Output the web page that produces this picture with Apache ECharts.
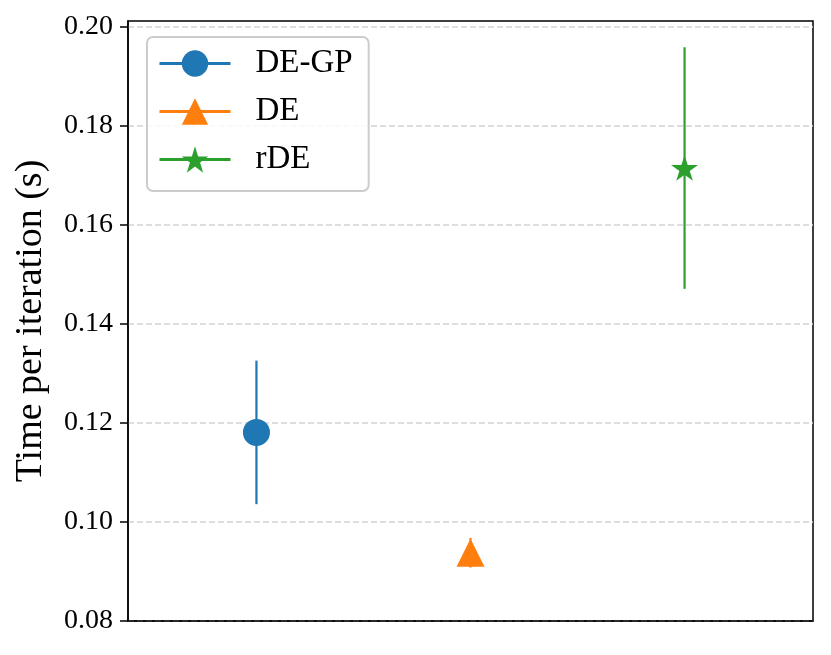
<!DOCTYPE html>
<html>
<head>
<meta charset="utf-8">
<script src="https://cdn.jsdelivr.net/npm/echarts@6/dist/echarts.min.js"></script>
<style>
	html,body{margin:0;padding:0;background:#fff;}
	#chart{width:831px;height:655px;}
</style>
</head>
<body>
<div id="chart"></div>
<script>
// method names, x slot, mean time and half error (s)
var methods = ['DE-GP', 'DE', 'rDE'];
var slots = [0, 1, 2];
var means = [0.1181, 0.0938, 0.1715];
var errors = [0.0145, 0.0030, 0.0244];
var yTicks = [0.08, 0.10, 0.12, 0.14, 0.16, 0.18, 0.20];

var COLOR = ['#1f77b4', '#ff7f0e', '#2ca02c'];
var STAR = 'path://M0,-100 L22.45,-30.9 L95.11,-30.9 L36.33,11.8 L58.78,80.9 L0,38.2 L-58.78,80.9 L-36.33,11.8 L-95.11,-30.9 L-22.45,-30.9 Z';
var SYMBOL = ['circle', 'triangle', STAR];
var SYMBOL_SIZE = [27, 28, 27];
var FONT = 'Liberation Serif';

var series = [];

// error bars first so the markers sit on top
for (var i = 0; i < methods.length; i++) {
	series.push({
		type: 'custom',
		z: 2,
		silent: true,
		data: [[slots[i], means[i] - errors[i], means[i] + errors[i]]],
		renderItem: (function(color){
			return function(params, api){
				var p0 = api.coord([api.value(0), api.value(1)]);
				var p1 = api.coord([api.value(0), api.value(2)]);
				return {
					type: 'line',
					shape: {x1: p0[0], y1: p0[1], x2: p1[0], y2: p1[1]},
					style: {stroke: color, lineWidth: 2.2}
				};
			};
		})(COLOR[i])
	});
}

for (var j = 0; j < methods.length; j++) {
	series.push({
		name: methods[j],
		type: 'line',
		z: 3,
		data: [[slots[j], means[j]]],
		symbol: SYMBOL[j],
		symbolSize: SYMBOL_SIZE[j],
		symbolKeepAspect: true,
		itemStyle: {color: COLOR[j]},
		lineStyle: {color: COLOR[j], width: 2.5},
		animation: false
	});
}

var myChart = echarts.init(document.getElementById('chart'), null, {renderer: 'canvas'});
myChart.setOption({
	animation: false,
	grid: {
		left: 128,
		right: 18,
		top: 21,
		bottom: 34,
		containLabel: false,
		outerBoundsMode: 'none',
		show: true,
		borderColor: '#000',
		borderWidth: 1.5,
		backgroundColor: 'transparent'
	},
	legend: {
		data: methods,
		orient: 'vertical',
		left: 147,
		top: 37,
		padding: [10, 16, 15, 11],
		itemGap: 15,
		itemWidth: 71,
		itemHeight: 33,
		backgroundColor: 'rgba(255,255,255,0.85)',
		borderColor: '#cccccc',
		borderWidth: 2,
		borderRadius: 6,
		lineStyle: {width: 3},
		textStyle: {
			fontFamily: FONT,
			fontSize: 33,
			color: '#000',
			padding: [0, 0, 0, 20]
		}
	},
	xAxis: {
		type: 'value',
		min: -0.6,
		max: 2.6,
		axisLine: {show: true, onZero: false, lineStyle: {color: '#000', width: 1.5}},
		axisTick: {show: false},
		axisLabel: {show: false},
		splitLine: {show: false}
	},
	yAxis: {
		type: 'value',
		min: 0.08,
		max: 0.2012,
		interval: 0.02,
		name: 'Time per iteration (s)',
		nameLocation: 'middle',
		nameGap: 78,
		nameTextStyle: {fontFamily: FONT, fontSize: 38, color: '#000'},
		axisLine: {show: true, onZero: false, lineStyle: {color: '#000', width: 1.5}},
		axisTick: {
			show: true,
			length: 8,
			customValues: yTicks,
			lineStyle: {color: '#000', width: 1.5}
		},
		axisLabel: {
			customValues: yTicks,
			margin: 15,
			fontFamily: FONT,
			fontSize: 28,
			color: '#000',
			formatter: function(v){ return v.toFixed(2); }
		},
		splitLine: {
			show: true,
			lineStyle: {color: '#d3d3d3', width: 1.5, type: [6, 3]}
		}
	},
	series: series
});
</script>
</body>
</html>
